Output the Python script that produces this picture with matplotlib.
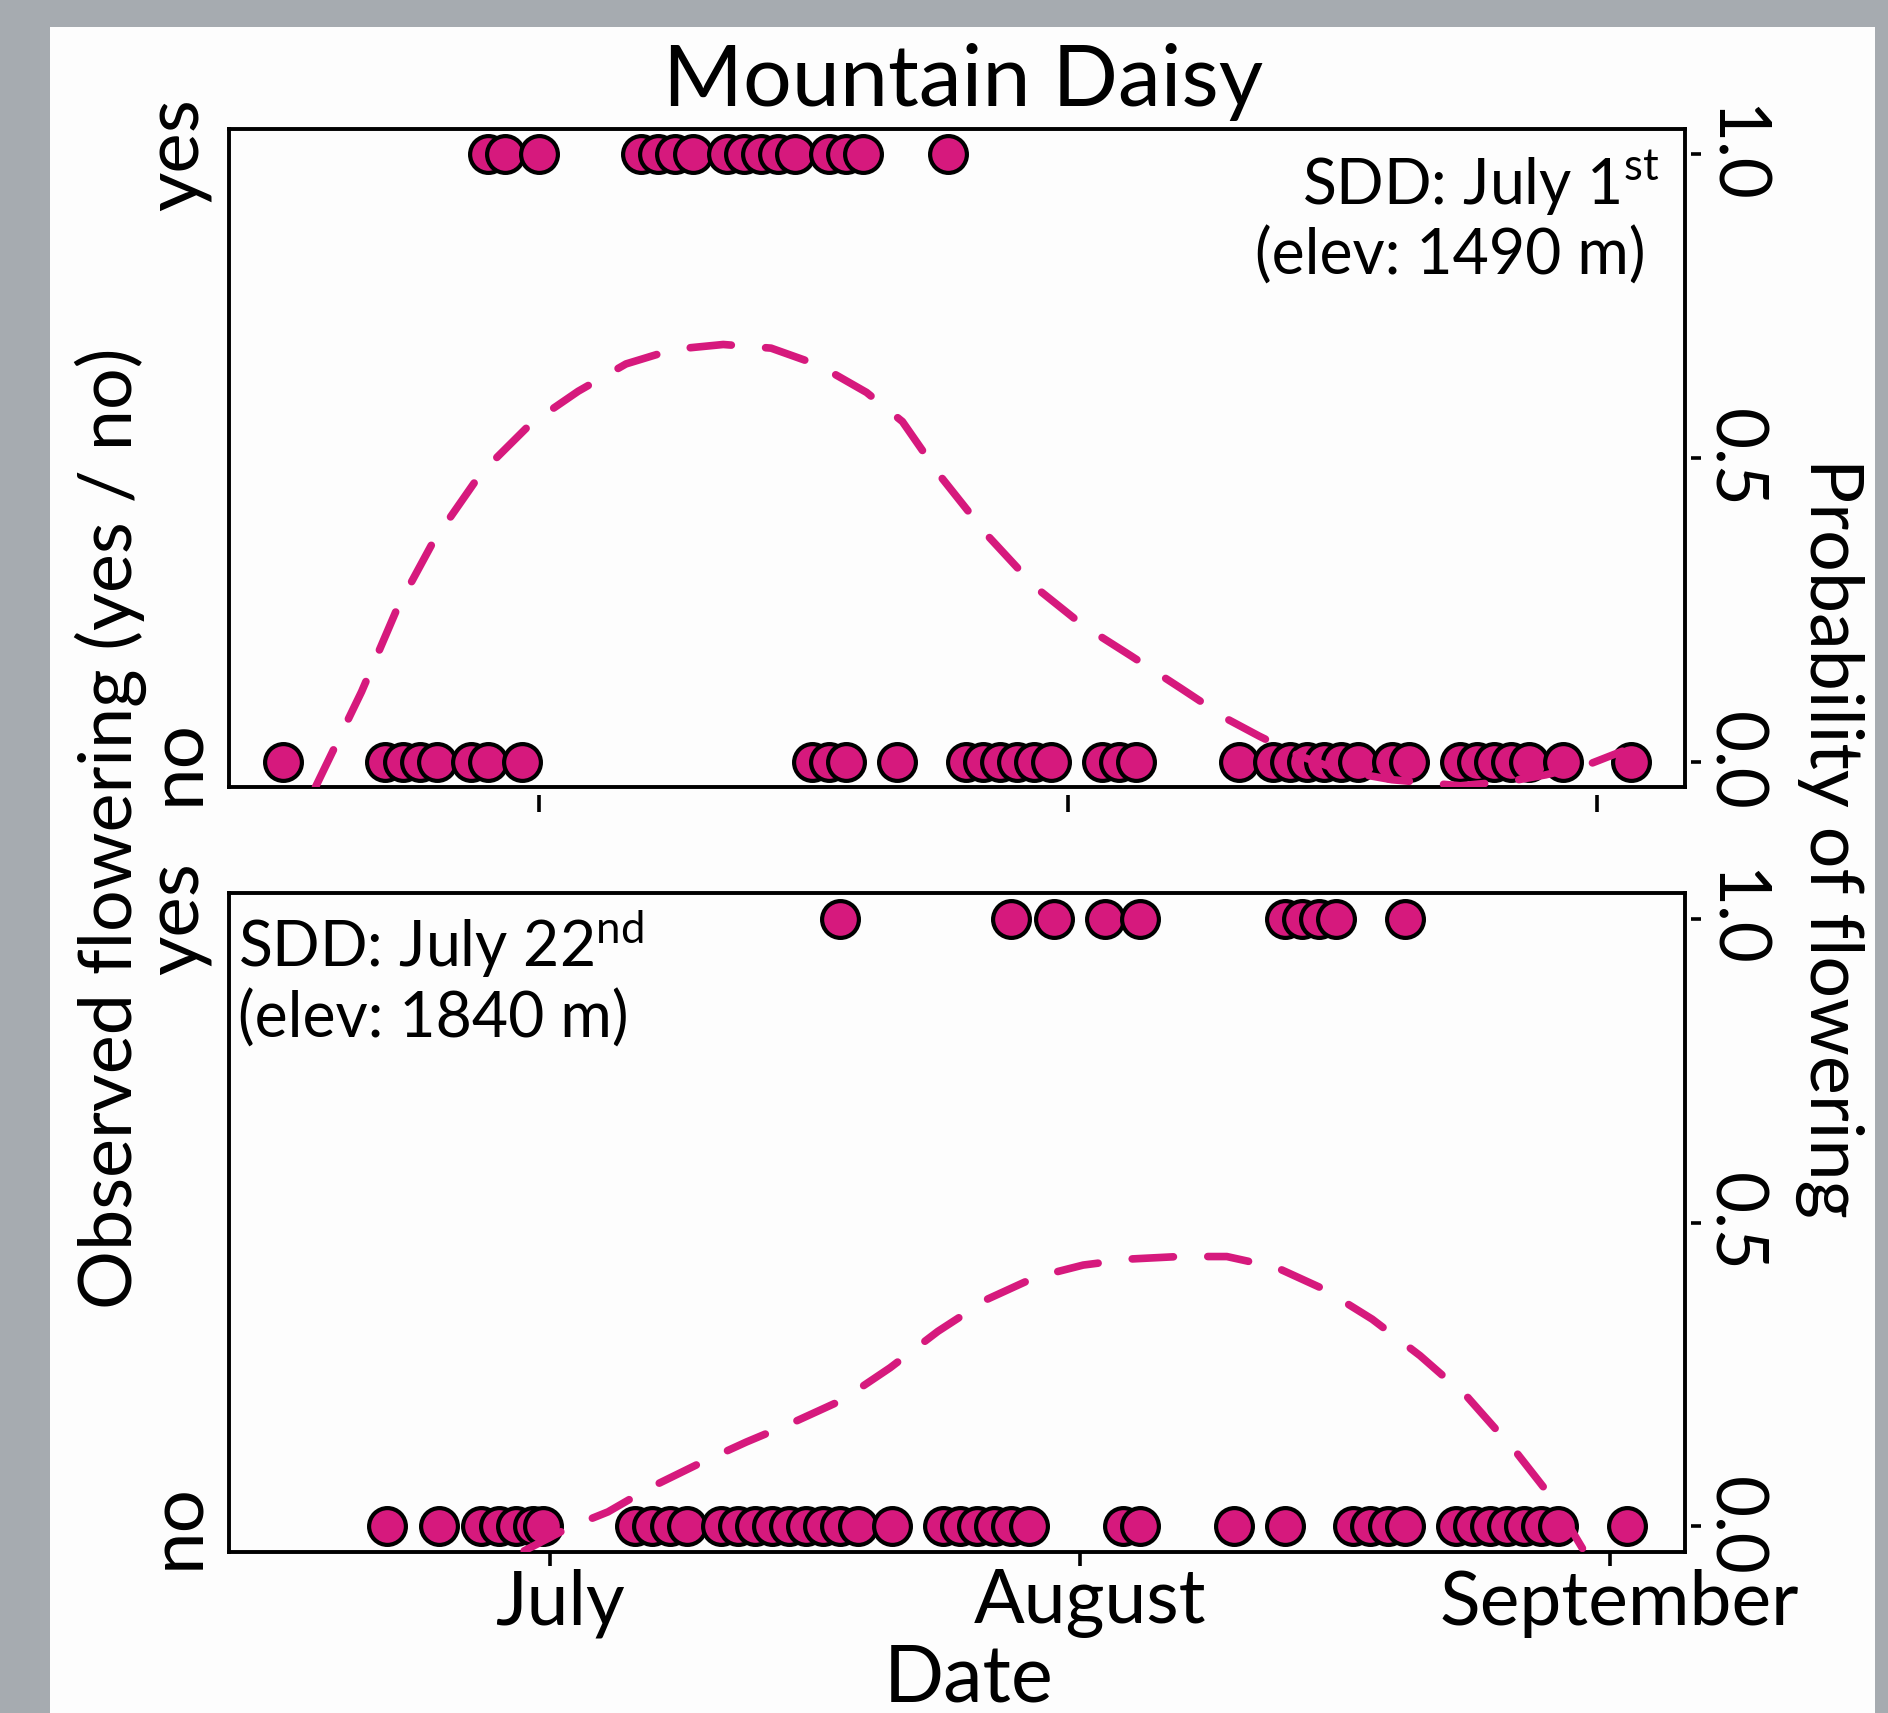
import numpy as np
import matplotlib
matplotlib.use("Agg")
import matplotlib.pyplot as plt
from matplotlib.patches import Rectangle
from matplotlib.transforms import ScaledTranslation

plt.rcParams['font.family'] = ['Lato', 'DejaVu Sans']
plt.rcParams['mathtext.fontset'] = 'custom'
plt.rcParams['mathtext.rm'] = 'Lato'

# x values are days counted from July 1st
month_ticks = [0, 31, 62]
month_labels = ["July", "August", "September"]
prob_ticks = [0.0, 0.5, 1.0]
prob_labels = ["0.0", "0.5", "1.0"]

# site 1: snow disappearance July 1st, 1490 m
site1_yes = [-3, -2, 0, 6, 7, 8, 9, 11, 12, 13, 14, 15, 17, 18, 19, 24]
site1_no = [-15, -9, -8, -7, -6, -4, -3, -1, 16, 17, 18, 21, 25, 26, 27, 28, 29, 30,
            33, 34, 35, 41, 43, 44, 45, 46, 47, 48, 50, 51, 54, 55, 56, 57, 58, 60, 64]
site1_fit_day = [-13.1, -10.4, -8.3, -6.2, -3.4, -0.5, 2.3, 5.1, 7.9, 10.8, 13.6, 16.4,
                 19.2, 21.3, 23.5, 26.3, 29.1, 31.9, 34.7, 37.6, 40.4, 42.2, 44.5, 47,
                 50, 54, 57, 59, 61.5, 63.5]
site1_fit_prob = [-0.042, 0.115, 0.253, 0.362, 0.475, 0.556, 0.61, 0.655, 0.679, 0.687,
                  0.681, 0.653, 0.608, 0.56, 0.471, 0.372, 0.287, 0.224, 0.174, 0.121,
                  0.069, 0.042, 0.01, -0.015, -0.03, -0.04, -0.032, -0.022, -0.005, 0.017]

# site 2: snow disappearance July 22nd, 1840 m
site2_yes = [17, 27, 29.5, 32.5, 34.5, 43, 44, 45, 46, 50]
site2_no = [-9.5, -6.5, -4, -3, -2, -1, -0.4, 5, 6, 7, 8, 10, 11, 12, 13, 14, 15, 16, 17,
            18, 20, 23, 24, 25, 26, 27, 28, 33.5, 34.5, 40, 43, 47, 48, 49, 50,
            53, 54, 55, 56, 57, 58, 59, 63]
site2_fit_day = [-1.5, 1.1, 3.4, 5.8, 8.7, 11.5, 14.3, 17.1, 19.9, 22.7, 25.6, 28.4, 31.2,
                 34.0, 36.8, 39.6, 42.5, 45.3, 48.1, 50.9, 53.7, 56.5, 58.7, 60.4]
site2_fit_prob = [-0.04, -0.002, 0.024, 0.063, 0.103, 0.139, 0.172, 0.208, 0.261, 0.321,
                  0.374, 0.41, 0.43, 0.44, 0.444, 0.444, 0.426, 0.39, 0.341, 0.281,
                  0.212, 0.123, 0.044, -0.036]

pink = '#D6197D'
W, H = 1888, 1713

fig = plt.figure(figsize=(W / 100, H / 100), dpi=100)
fig.patch.set_facecolor('#a6abb0')
fig.add_artist(Rectangle((50 / W, 0), (1875 - 50) / W, 1 - 27 / H,
                         transform=fig.transFigure, facecolor='#fdfdfd',
                         edgecolor='none', zorder=-5))


def panel(rect, yes, no, fit_day, fit_prob, xlim, bottom):
    ax = fig.add_axes(rect)
    ax.set_facecolor('#fdfdfd')
    for obs, level in ((yes, 1), (no, 0)):
        ax.plot(obs, np.full(len(obs), level), 'o', ms=26.5, mfc=pink, mec='black',
                mew=3.0, zorder=3, clip_on=False)
    ax.plot(fit_day, fit_prob, color=pink, lw=5.5, dashes=(5.4, 4.5),
            dash_capstyle='round', zorder=4)
    ax.set_xlim(xlim)
    ax.set_ylim(-0.042, 1.042)
    for s in ax.spines.values():
        s.set_linewidth(2.8)

    ax.set_yticks([0, 1], ['no', 'yes'], rotation=90, va='center')
    ax.tick_params(axis='y', length=0, pad=12, labelsize=55)

    ax.set_xticks(month_ticks)
    if bottom:
        ax.set_xticklabels(month_labels)
        ax.tick_params(axis='x', length=10, width=2.6, pad=2, labelsize=54)
        shift = ScaledTranslation(7 / 72, 0, fig.dpi_scale_trans)
        for lab in ax.get_xticklabels():
            lab.set_transform(lab.get_transform() + shift)
    else:
        ax.tick_params(axis='x', length=0, labelbottom=False)
        sx = ax.secondary_xaxis(-0.012)
        sx.set_xticks(month_ticks)
        sx.tick_params(axis='x', length=12, width=2.6, labelbottom=False)
        sx.spines['bottom'].set_visible(False)

    sy = ax.secondary_yaxis(1 + 6 / 1456)
    sy.set_yticks(prob_ticks, prob_labels, rotation=270, va='center')
    sy.tick_params(axis='y', length=7.2, width=2.6, pad=0, labelsize=51)
    sy.spines['right'].set_visible(False)
    return ax


ax1 = panel([229 / W, 1 - 787 / H, 1456 / W, 658 / H], site1_yes, site1_no,
            site1_fit_day, site1_fit_prob, (-18.17, 67.17), False)
ax2 = panel([229 / W, 1 - 1552 / H, 1456 / W, 659 / H], site2_yes, site2_no,
            site2_fit_day, site2_fit_prob, (-18.77, 66.4), True)

ax1.text(0.983, 0.885, r'SDD: July 1$^{\mathrm{st}}$', transform=ax1.transAxes,
         ha='right', va='baseline', fontsize=45)
ax1.text(0.973, 0.778, '(elev: 1490 m)', transform=ax1.transAxes,
         ha='right', va='baseline', fontsize=45)
ax2.text(0.006, 0.888, r'SDD: July 22$^{\mathrm{nd}}$', transform=ax2.transAxes,
         ha='left', va='baseline', fontsize=45)
ax2.text(0.006, 0.78, '(elev: 1840 m)', transform=ax2.transAxes,
         ha='left', va='baseline', fontsize=45)

fig.text(0.51, 0.938, 'Mountain Daisy', ha='center', va='baseline', fontsize=62)
fig.text(0.513, 0.007, 'Date', ha='center', va='baseline', fontsize=57)
fig.text(0.0588, 0.5166, 'Observed flowering (yes / no)', rotation=90,
         ha='center', va='center', fontsize=53)
fig.text(0.969, 0.511, 'Probability of flowering', rotation=270,
         ha='center', va='center', fontsize=53)

fig.savefig('out.png', dpi=100)
